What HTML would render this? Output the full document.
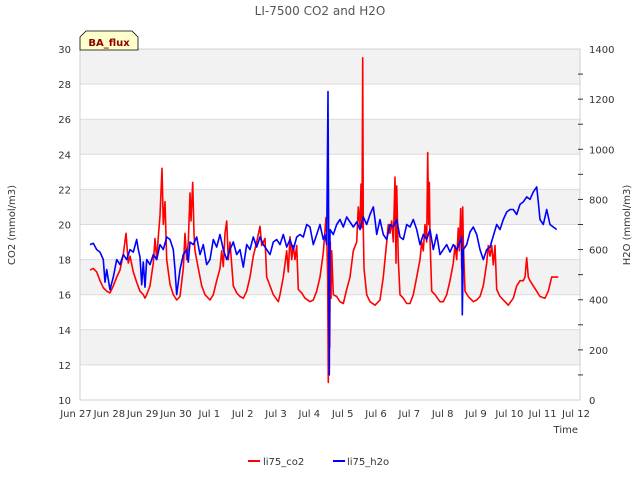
<!DOCTYPE html>
<html><head><meta charset="utf-8"><style>
html,body{margin:0;padding:0;background:#fff}
svg text{font-family:"DejaVu Sans","Liberation Sans",sans-serif}
</style></head><body>
<svg id="chart" width="640" height="480" viewBox="0 0 640 480" xmlns="http://www.w3.org/2000/svg">
<text x="320" y="15" text-anchor="middle" font-size="12" fill="#555">LI-7500 CO2 and H2O</text>
<g id="bands"></g><g id="grid"></g>
<rect x="80" y="49" width="500" height="351" fill="none" stroke="#d0d0d0"/>
<g id="axes" font-size="10" fill="#333"></g>
<g id="series"></g>
<text x="15" y="225" transform="rotate(-90 15 225)" text-anchor="middle" font-size="10" fill="#333">CO2 (mmol/m3)</text>
<text x="630" y="225" transform="rotate(-90 630 225)" text-anchor="middle" font-size="10" fill="#333">H2O (mmol/m3)</text>
<text x="578" y="433" text-anchor="end" font-size="10" fill="#333">Time</text>
<g>
<path d="M80,50 L80,37 L86,31 L132,31 L138,37 L138,50 Z" fill="#ffffcc" stroke="#000" stroke-width="0.8"/>
<text x="109" y="46" text-anchor="middle" font-size="10" font-weight="bold" fill="#8b0000">BA_flux</text></g>
<g><line x1="248" y1="461" x2="260" y2="461" stroke="#f00" stroke-width="2"/><text x="263" y="465" font-size="10" fill="#333">li75_co2</text></g>
<g><line x1="333" y1="461" x2="345" y2="461" stroke="#00f" stroke-width="2"/><text x="347" y="465" font-size="10" fill="#333">li75_h2o</text></g>
</svg>
<script>
const xTickLabels=["Jun 27","Jun 28","Jun 29","Jun 30","Jul 1","Jul 2","Jul 3","Jul 4","Jul 5","Jul 6","Jul 7","Jul 8","Jul 9","Jul 10","Jul 11","Jul 12"];
const leftTicks=[10,12,14,16,18,20,22,24,26,28,30];
const rightTicks=[0,200,400,600,800,1000,1200,1400];
const co2Times=[0.3,0.4,0.5,0.6,0.7,0.8,0.9,1.0,1.1,1.2,1.3,1.38,1.45,1.5,1.6,1.7,1.8,1.9,1.95,2.0,2.1,2.2,2.25,2.3,2.35,2.4,2.46,2.5,2.55,2.6,2.7,2.8,2.9,3.0,3.1,3.15,3.2,3.25,3.3,3.33,3.38,3.42,3.45,3.55,3.65,3.75,3.9,4.0,4.1,4.2,4.25,4.3,4.35,4.4,4.45,4.5,4.6,4.7,4.8,4.9,5.0,5.1,5.2,5.3,5.4,5.45,5.55,5.6,5.7,5.8,5.95,6.0,6.1,6.2,6.25,6.3,6.35,6.4,6.45,6.5,6.55,6.65,6.75,6.9,7.0,7.1,7.2,7.3,7.38,7.4,7.43,7.45,7.47,7.49,7.51,7.53,7.55,7.6,7.7,7.8,7.9,8.0,8.1,8.2,8.3,8.35,8.4,8.43,8.46,8.48,8.5,8.52,8.6,8.7,8.85,9.0,9.1,9.2,9.25,9.3,9.35,9.4,9.45,9.48,9.5,9.55,9.6,9.7,9.8,9.9,10.0,10.1,10.2,10.25,10.3,10.35,10.4,10.43,10.46,10.48,10.5,10.55,10.65,10.8,10.9,11.0,11.1,11.2,11.25,11.3,11.35,11.38,11.42,11.45,11.48,11.5,11.55,11.65,11.8,11.9,12.0,12.1,12.2,12.25,12.3,12.35,12.4,12.45,12.5,12.6,12.75,12.85,13.0,13.1,13.2,13.3,13.35,13.4,13.45,13.5,13.6,13.7,13.8,13.95,14.05,14.15,14.25,14.35];
const co2Values=[17.4,17.5,17.3,16.8,16.4,16.2,16.1,16.5,17.0,17.4,18.3,19.5,17.8,18.2,17.3,16.7,16.2,16.0,15.8,16.0,16.5,17.8,19.2,18.0,19.3,20.5,23.2,20.0,21.3,18.0,16.6,16.0,15.7,15.9,17.5,19.5,18.0,19.0,21.8,20.2,22.4,19.5,18.5,17.5,16.5,16.0,15.7,16.0,16.8,17.5,18.5,17.6,19.5,20.2,18.0,19.0,16.5,16.1,15.9,15.8,16.2,17.0,18.2,19.0,19.9,18.8,19.2,17.0,16.5,16.0,15.6,16.0,17.0,18.5,17.3,19.3,18.0,18.8,18.0,18.8,16.3,16.1,15.8,15.6,15.7,16.2,17.0,18.4,20.4,19.5,17.0,11.0,19.6,13.0,19.0,15.8,18.5,16.0,15.9,15.6,15.5,16.3,17.0,18.5,19.0,21.0,19.8,22.3,19.8,29.5,19.8,17.5,16.0,15.6,15.4,15.7,17.0,19.0,20.0,19.5,20.2,19.0,22.7,17.8,22.2,18.0,16.0,15.8,15.5,15.5,16.0,17.0,18.0,19.0,18.5,20.0,19.0,24.1,20.0,22.4,19.2,16.2,16.0,15.6,15.6,16.0,16.8,17.8,18.8,18.0,19.8,18.5,20.9,17.5,21.0,19.0,16.2,15.9,15.6,15.7,15.9,16.5,17.8,18.8,18.2,18.8,17.7,18.8,16.3,15.9,15.6,15.4,15.8,16.5,16.8,16.8,17.0,18.1,17.0,16.8,16.5,16.2,15.9,15.8,16.2,17.0,17.0,17.0];
const h2oTimes=[0.3,0.4,0.5,0.6,0.7,0.75,0.8,0.9,1.0,1.1,1.2,1.3,1.4,1.5,1.6,1.7,1.75,1.8,1.85,1.9,1.95,2.0,2.1,2.2,2.3,2.4,2.5,2.6,2.7,2.8,2.85,2.9,3.0,3.1,3.2,3.25,3.3,3.4,3.5,3.6,3.7,3.8,3.9,4.0,4.1,4.2,4.3,4.4,4.5,4.6,4.7,4.8,4.9,5.0,5.1,5.2,5.3,5.4,5.5,5.6,5.7,5.8,5.9,6.0,6.1,6.2,6.3,6.4,6.5,6.6,6.7,6.8,6.9,7.0,7.1,7.2,7.3,7.35,7.4,7.44,7.46,7.48,7.5,7.6,7.7,7.8,7.9,8.0,8.1,8.2,8.3,8.4,8.5,8.6,8.7,8.8,8.85,8.9,9.0,9.1,9.2,9.3,9.4,9.5,9.6,9.7,9.8,9.9,10.0,10.1,10.2,10.3,10.4,10.5,10.6,10.7,10.8,10.9,11.0,11.1,11.2,11.3,11.45,11.47,11.5,11.6,11.7,11.8,11.9,12.0,12.1,12.2,12.3,12.5,12.6,12.7,12.8,12.9,13.0,13.1,13.2,13.3,13.4,13.5,13.6,13.7,13.75,13.8,13.9,14.0,14.1,14.2,14.3,14.35];
const h2oValues=[620,625,600,590,560,470,520,440,490,560,540,580,560,600,590,640,600,570,460,550,450,560,540,580,560,620,600,650,640,600,520,420,520,580,600,550,630,620,650,580,620,540,560,640,610,660,600,560,600,630,580,600,530,620,600,650,610,650,620,600,580,630,640,620,660,610,640,600,650,660,650,700,690,620,660,700,640,660,620,1230,640,100,680,660,700,720,690,730,710,690,710,680,730,700,740,770,720,660,720,660,640,700,690,720,650,640,700,690,720,680,620,660,640,680,600,660,580,600,620,590,620,600,650,340,600,620,670,690,660,600,560,600,610,700,680,720,750,760,760,740,780,790,810,800,830,850,790,720,700,760,700,690,680];
const NS="http://www.w3.org/2000/svg";
const X0=80,X1=580,Y0=400,Y1=49,DAYS=15;
const xs=t=>X0+(t/DAYS)*(X1-X0);
const yL=v=>Y0-(v-10)/20*(Y0-Y1);
const yR=v=>Y0-v/1400*(Y0-Y1);
function mk(tag,attrs,parent){const e=document.createElementNS(NS,tag);for(const k in attrs)e.setAttribute(k,attrs[k]);parent.appendChild(e);return e;}
const bands=document.getElementById('bands'),grid=document.getElementById('grid'),axes=document.getElementById('axes'),series=document.getElementById('series');
for(let i=0;i<leftTicks.length-1;i++){
  if(i%2===1){const r=mk('rect',{x:X0,y:yL(leftTicks[i+1]),width:X1-X0,height:yL(leftTicks[i])-yL(leftTicks[i+1]),fill:'#f2f2f2'},bands);
  
  }
}
leftTicks.forEach(v=>{
  const l=mk('line',{x1:X0,x2:X1,y1:yL(v),y2:yL(v),stroke:'#dcdcdc'},grid);
  
  
  const t=mk('text',{x:71,y:yL(v)+4,'text-anchor':'end'},axes);t.textContent=v;
  
  
});
rightTicks.forEach(v=>{
  const t=mk('text',{x:589,y:yR(v)+4},axes);t.textContent=v;
  
  
});
for(let v=100;v<1400;v+=100){const m=mk('line',{x1:578,x2:583,y1:yR(v),y2:yR(v),stroke:'#333'},axes);
  
  }
xTickLabels.forEach((s,i)=>{
  const t=mk('text',{x:xs(i)-4,y:417,'text-anchor':'middle'},axes);t.textContent=s;
  
  
});
function line(ts,vs,yf,color,name){
  const d=ts.map((t,i)=>(i?'L':'M')+xs(t).toFixed(1)+','+yf(vs[i]).toFixed(1)).join(' ');
  const p=mk('path',{d:d,fill:'none',stroke:color,'stroke-width':1.6,'stroke-linejoin':'round'},series);
  
  
}
line(co2Times,co2Values,yL,'#ff0000','co2-line');
line(h2oTimes,h2oValues,yR,'#0000ff','h2o-line');
</script>
</body></html>
